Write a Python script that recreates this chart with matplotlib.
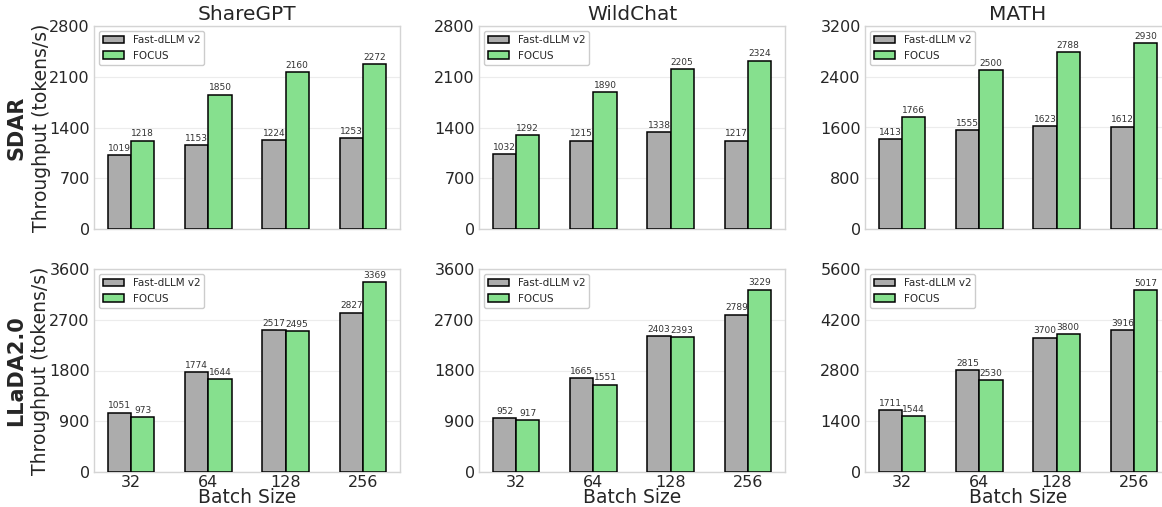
import numpy as np
import matplotlib
matplotlib.use("Agg")
import matplotlib.pyplot as plt
import seaborn as sns

# Throughput (tokens/s) per batch size
batch_sizes = ["32", "64", "128", "256"]
datasets = ["ShareGPT", "WildChat", "MATH"]
models = ["SDAR", "LLaDA2.0"]

sdar_fast = [[1019, 1153, 1224, 1253], [1032, 1215, 1338, 1217], [1413, 1555, 1623, 1612]]
sdar_focus = [[1218, 1850, 2160, 2272], [1292, 1890, 2205, 2324], [1766, 2500, 2788, 2930]]
llada_fast = [[1051, 1774, 2517, 2827], [952, 1665, 2403, 2789], [1711, 2815, 3700, 3916]]
llada_focus = [[973, 1644, 2495, 3369], [917, 1551, 2393, 3229], [1544, 2530, 3800, 5017]]

# y-axis tick steps / upper limits per panel
y_steps = [[700, 700, 800], [900, 900, 1400]]
y_tops = [[2800, 2800, 3200], [3600, 3600, 5600]]

sns.set_style("whitegrid")
plt.rcParams["font.family"] = ["DejaVu Sans"]

gray = "#acacac"
green = "#86e08e"

fig = plt.figure(figsize=(11.62, 5.07), dpi=100)

lefts = [94 / 1162, 479 / 1162, 865 / 1162]
width = 306 / 1162
bottoms = [(507 - 229) / 507, (507 - 472) / 507]
height = 203 / 507

fast_all = [sdar_fast, llada_fast]
focus_all = [sdar_focus, llada_focus]

x = np.arange(len(batch_sizes))
w = 0.3

for r in range(2):
    for c in range(3):
        ax = fig.add_axes([lefts[c], bottoms[r], width, height])
        b1 = ax.bar(x - w / 2, fast_all[r][c], w, color=gray, edgecolor="black",
                    linewidth=1.1, label="Fast-dLLM v2", zorder=3)
        b2 = ax.bar(x + w / 2, focus_all[r][c], w, color=green, edgecolor="black",
                    linewidth=1.1, label="FOCUS", zorder=3)
        for bars in (b1, b2):
            for b in bars:
                ax.text(b.get_x() + b.get_width() / 2, b.get_height() + y_tops[r][c] * 0.012,
                        f"{int(b.get_height())}", ha="center", va="bottom",
                        fontsize=6.5, color="#333333")
        ax.set_ylim(0, y_tops[r][c])
        ax.set_yticks(np.arange(0, y_tops[r][c] + 1, y_steps[r][c]))
        ax.set_xticks(x)
        ax.grid(axis="x", visible=False)
        ax.grid(axis="y", color="#ececec", linewidth=0.8, zorder=0)
        for s in ax.spines.values():
            s.set_color("#d4d4d4")
            s.set_linewidth(1.0)
        ax.tick_params(axis="both", labelsize=11.5, colors="#262626", length=0, pad=3)
        ax.tick_params(axis="x", pad=2)
        if r == 0:
            ax.set_title(datasets[c], fontsize=14.5, color="#262626", pad=4)
            ax.set_xticklabels([])
        else:
            ax.set_xticklabels(batch_sizes)
            ax.set_xlabel("Batch Size", fontsize=13.5, color="#262626", labelpad=-1)
        if c == 0:
            ax.set_ylabel("Throughput (tokens/s)", fontsize=13.5, color="#262626", labelpad=-1)
        ax.legend(loc="upper left", fontsize=7.5, frameon=True, edgecolor="#cccccc",
                  fancybox=True, framealpha=1.0)

fig.text(16 / 1162, (bottoms[0] + height / 2), models[0], rotation=90, fontsize=15,
         fontweight="bold", ha="center", va="center", color="#262626")
fig.text(16 / 1162, (bottoms[1] + height / 2), models[1], rotation=90, fontsize=15,
         fontweight="bold", ha="center", va="center", color="#262626")

fig.savefig("out.png", dpi=100)
